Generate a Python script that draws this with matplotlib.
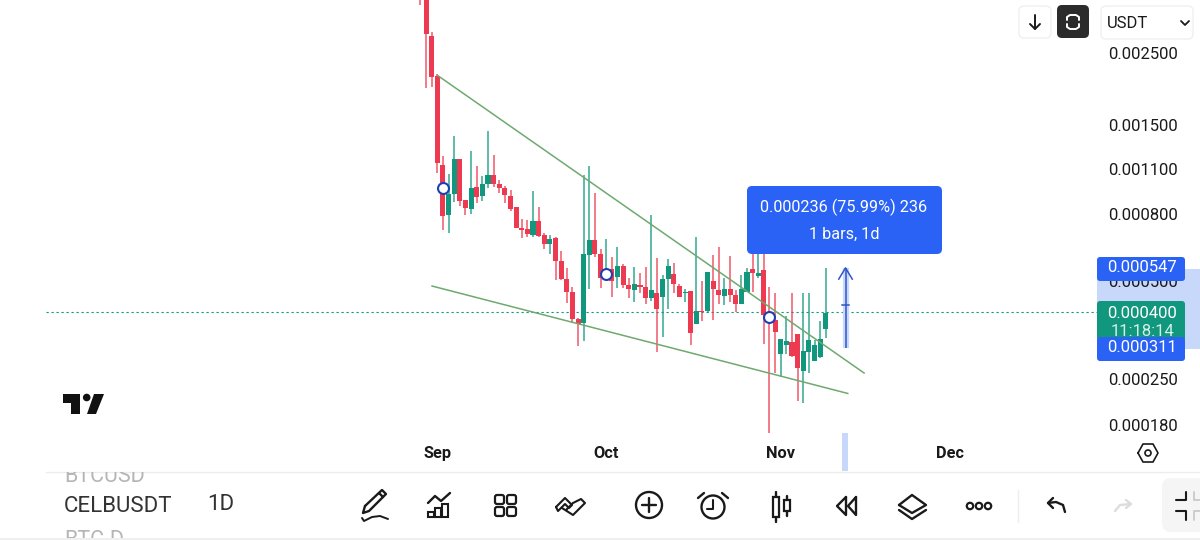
import matplotlib
matplotlib.use("Agg")
import matplotlib.pyplot as plt
from matplotlib.patches import FancyBboxPatch, Rectangle, Circle, Polygon

plt.rcParams["font.family"] = ["Roboto", "DejaVu Sans"]

# candles, prices in 1e-6 USDT
# first three start above the top of the chart
opens = [3900, 3900, 2820, 2130, 1132, 795, 922, 1181, 883, 829, 970, 909, 991, 1054, 991, 964, 909, 841, 725, 720,
         689, 762, 689, 647, 675, 575, 505, 462, 381, 370, 599, 666, 603, 505, 542, 513, 554, 485, 468, 485,
         478, 442, 457, 445, 505, 523, 481, 457, 465, 368, 403, 403, 498, 468, 448, 471, 451, 423, 462, 542,
         516, 539, 400, 378, 297, 317, 324, 343, 264, 302, 283, 291, 355]
highs = [3950, 3950, 2900, 2160, 1207, 1062, 1389, 1181, 883, 1249, 1124, 1047, 1440, 1215, 1019, 977, 950, 841, 773, 767,
         944, 841, 699, 689, 680, 616, 546, 478, 384, 1054, 1124, 928, 625, 670, 591, 634, 562, 509, 550, 527,
         550, 795, 587, 520, 583, 566, 488, 471, 465, 680, 498, 531, 599, 634, 509, 595, 468, 520, 546, 603,
         603, 603, 478, 457, 331, 389, 457, 343, 457, 457, 328, 376, 546]
lows = [3510, 1952, 1963, 1069, 715, 699, 871, 847, 795, 800, 865, 877, 964, 970, 928, 865, 818, 725, 675, 680,
        680, 680, 625, 603, 502, 502, 426, 370, 315, 326, 471, 591, 475, 502, 445, 475, 475, 442, 430, 457,
        423, 433, 302, 335, 409, 457, 445, 430, 317, 368, 376, 397, 378, 423, 420, 430, 400, 423, 462, 462,
        509, 319, 170, 260, 253, 297, 291, 213, 211, 260, 283, 289, 333]
closes = [3700, 2860, 2110, 1148, 789, 922, 1181, 877, 835, 964, 902, 991, 1054, 991, 964, 915, 829, 725, 715, 694,
          762, 684, 647, 670, 575, 505, 462, 381, 368, 603, 666, 603, 509, 542, 498, 554, 485, 471, 488, 478,
          442, 468, 409, 505, 554, 488, 445, 462, 345, 403, 400, 531, 471, 451, 471, 451, 423, 471, 531, 527,
          527, 392, 373, 348, 331, 326, 293, 269, 304, 328, 317, 331, 397]
first_day = -3

price_ticks = [0.0025, 0.0015, 0.0011, 0.0008, 0.0005, 0.00025, 0.00018]
price_labels = ["0.002500", "0.001500", "0.001100", "0.000800", "0.000500", "0.000250", "0.000180"]
month_days = [0, 30, 61, 91]
month_labels = ["Sep", "Oct", "Nov", "Dec"]
last_price = 0.0004
upper_line = ([0.1, 75.8], [0.00213, 0.00026])
lower_line = ([-0.94, 72.9], [0.000481, 0.000225])
markers = ([1, 30, 59], [0.000964, 0.000523, 0.000387])
measure_day = 72.5
measure_from = 0.000311
measure_to = 0.000547

RED = "#ee3a50"
GREEN = "#11977d"
BLUE = "#2a62f5"
PALE = "#c8d8fb"
INK = "#1a1a1a"
LINE_GREEN = "#6fa96f"

fig = plt.figure(figsize=(12, 5.4), dpi=100, facecolor="white")


def px_axes(z):
    a = fig.add_axes([0, 0, 1, 1], zorder=z, facecolor="none")
    a.set_xlim(0, 1200)
    a.set_ylim(540, 0)
    a.axis("off")
    return a


bg = px_axes(0)
bg.add_patch(Rectangle((1097, 269), 103, 80, color=PALE, lw=0))
bg.add_patch(Rectangle((842, 433), 6, 38, color=PALE, lw=0))
bg.plot([46, 1200], [471.5, 471.5], color="#ececec", lw=1)
bg.plot([0, 1200], [538.5, 538.5], color="#ececec", lw=1.2)

# price chart
ax = fig.add_axes([46 / 1200, (540 - 471) / 540, (1100 - 46) / 1200, 471 / 540], zorder=1, facecolor="none")
ax.set_yscale("log")
ax.set_xlim(-69.5, 117.7)
ax.set_ylim(0.000130, 0.003637)
for s in ax.spines.values():
    s.set_visible(False)
ax.yaxis.tick_right()
ax.set_yticks(price_ticks)
ax.set_yticklabels(price_labels, fontsize=12, color=INK)
ax.minorticks_off()
ax.set_xticks(month_days)
ax.set_xticklabels(month_labels, fontsize=11.8, fontweight="bold", color=INK)
ax.tick_params(axis="both", length=0)
ax.tick_params(axis="y", pad=5.5)
ax.tick_params(axis="x", pad=-18)
for lab in ax.get_xticklabels():
    lab.set_zorder(5)

ax.axhline(last_price, color=GREEN, lw=0.8, ls=(0, (2, 2.5)), zorder=1)
ax.plot(*upper_line, color=LINE_GREEN, lw=1.1, zorder=4)
ax.plot(*lower_line, color=LINE_GREEN, lw=1.1, zorder=4)

for n in range(len(opens)):
    day = first_day + n
    o, h, l, c = [v * 1e-6 for v in (opens[n], highs[n], lows[n], closes[n])]
    col = GREEN if c >= o else RED
    ax.plot([day, day], [l, h], color=col, lw=1.3, alpha=0.72, solid_capstyle="butt", zorder=2)
    ax.bar(day, abs(c - o), bottom=min(o, c), width=0.9, color=col, lw=0, zorder=3)

ax.scatter(markers[0], markers[1], s=62, facecolor="white", edgecolor="#1f3fb5", lw=1.5, zorder=6)

# measure arrow
ax.plot([measure_day, measure_day], [measure_from, measure_to], color=PALE, lw=4.5, solid_capstyle="butt", zorder=5)
ax.plot([measure_day, measure_day], [measure_from, measure_to], color="#2f55c8", lw=1.1, solid_capstyle="butt", zorder=6)
ax.plot([measure_day - 1.2, measure_day, measure_day + 1.2], [0.000505, measure_to, 0.000505], color="#2f55c8", lw=1.1, zorder=6)
ax.plot([measure_day - 0.6, measure_day + 0.6], [0.000421, 0.000421], color="#2f55c8", lw=1.1, zorder=6)

ui = px_axes(2)


def box(x, y, w, h, color, r=3, edge="none", lw=0):
    p = FancyBboxPatch((x + r, y + r), w - 2 * r, h - 2 * r, boxstyle=f"round,pad={r},rounding_size={r}",
                       facecolor=color, edgecolor=edge, lw=lw)
    ui.add_patch(p)


def stroke(xs, ys, color=INK, lw=1.7):
    ui.plot(xs, ys, color=color, lw=lw, solid_capstyle="round", solid_joinstyle="round")


def ring(x, y, r, color=INK, lw=1.7, fill="none"):
    ui.add_patch(Circle((x, y), r, facecolor=fill, edgecolor=color, lw=lw))


# tooltip
box(747, 186, 195, 68, BLUE, r=5)
ui.text(844, 207, "0.000236 (75.99%) 236", color="white", fontsize=11.7, ha="center", va="center")
ui.text(844, 234, "1 bars, 1d", color="white", fontsize=11.7, ha="center", va="center")

# price tags
box(1097, 257, 88, 24, BLUE)
ui.text(1142, 268, "0.000547", color="white", fontsize=12, ha="center", va="center")
box(1097, 301, 88, 40, GREEN)
ui.text(1142, 313, "0.000400", color="white", fontsize=12, ha="center", va="center")
ui.text(1142, 331, "11:18:14", color="#d5efe8", fontsize=12, ha="center", va="center")
box(1097, 337, 88, 24, BLUE)
ui.text(1142, 348, "0.000311", color="white", fontsize=12, ha="center", va="center")

# top buttons
box(1019, 6, 32, 32, "white", r=5, edge="#f0f0f0", lw=1)
stroke([1035, 1035], [15, 29], lw=1.4)
stroke([1030, 1035, 1040], [24, 29, 24], lw=1.4)
box(1057, 5, 32, 33, "#2b2b2b", r=5)
stroke([1067, 1067, 1070, 1076, 1079, 1079], [20, 17, 15, 15, 17, 20], color="white", lw=1.4)
stroke([1067, 1067, 1070, 1076, 1079, 1079], [24, 27, 29, 29, 27, 24], color="white", lw=1.4)
box(1101, 6, 92, 33, "white", r=5, edge="#f0f0f0", lw=1)
ui.text(1107, 23, "USDT", color=INK, fontsize=12, ha="left", va="center")
stroke([1181, 1185, 1189], [21, 25, 21], lw=1.3)

# logo
ui.add_patch(Polygon([(63, 394), (80, 394), (80, 414), (71, 414), (71, 403), (63, 403)], color="#111111", lw=0))
ui.add_patch(Circle((86.7, 397.5), 3.8, color="#111111", lw=0))
ui.add_patch(Polygon([(94, 394), (104, 394), (96, 414), (87, 414)], color="#111111", lw=0))

# symbol list, clipped by the panel lines
clip = Rectangle((0, 472), 1200, 66, transform=ui.transData)
t = ui.text(64, 477, "BTCUSD", color="#b5b5b5", fontsize=15.5, ha="left", va="center")
t.set_clip_path(clip)
t.set_clip_on(True)
t = ui.text(64, 541, "BTC-D", color="#b5b5b5", fontsize=15.5, ha="left", va="center")
t.set_clip_path(clip)
t.set_clip_on(True)
ui.text(64, 507, "CELBUSDT", color="#333333", fontsize=16, ha="left", va="center")
ui.text(207, 505, "1D", color="#333333", fontsize=16, ha="left", va="center")

# hexagon settings button
stroke([1138, 1143, 1153, 1158, 1153, 1143, 1138], [453, 444, 444, 453, 462, 462, 453], lw=1.2)
ring(1148, 453, 3, lw=1.2)

# pencil
stroke([365, 382, 386, 369, 363, 365], [506, 490, 494, 511, 513, 506])
stroke([379, 383], [493, 497])
stroke([362, 364, 372, 380, 388], [518, 521, 517, 516, 519], lw=1.4)
# bars and trend
for bx, top in zip([431, 438, 445], [512, 508, 504]):
    ui.add_patch(Rectangle((bx - 3, top), 6, 517 - top, facecolor="none", edgecolor=INK, lw=1.5))
stroke([428, 435, 441, 450], [503, 496, 501, 493])
# grid
for gx in [495, 507]:
    for gy in [495, 507]:
        ui.add_patch(FancyBboxPatch((gx + 2, gy + 2), 5, 5, boxstyle="round,pad=2,rounding_size=2",
                                    facecolor="none", edgecolor=INK, lw=1.6))
# chevrons
stroke([556, 565, 572, 569, 565, 558, 556], [507, 498, 505, 508, 504, 511, 507], lw=1.5)
stroke([566, 573, 581, 585, 573, 562], [510, 503, 499, 503, 515, 508], lw=1.5)
# plus
ring(649, 505, 13)
stroke([642, 656], [505, 505])
stroke([649, 649], [498, 512])
# alarm
ring(713, 507, 11.5)
stroke([713, 713, 707], [500, 509, 509], lw=1.5)
stroke([698, 704], [498, 493])
stroke([722, 728], [493, 498])
# candles icon
ui.add_patch(Rectangle((773, 497), 6, 20, facecolor="none", edgecolor=INK, lw=1.6))
stroke([776, 776], [492, 497])
stroke([776, 776], [517, 522])
ui.add_patch(Rectangle((784, 500), 6, 11, facecolor="none", edgecolor=INK, lw=1.6))
stroke([787, 787], [496, 500])
stroke([787, 787], [511, 516])
# rewind
stroke([846, 837, 846, 846], [497, 506, 515, 497])
stroke([856, 848, 856, 856], [497, 506, 515, 497])
# layers
stroke([899, 912, 926, 912, 899], [505, 495, 505, 513, 505])
stroke([899, 912, 926], [510, 519, 510])
# dots
for dx in [970, 979, 988]:
    ring(dx, 506, 3.2, lw=1.6)
ui.plot([1018, 1018], [490, 522], color="#eeeeee", lw=1)
# undo and redo
stroke([1048, 1056, 1063, 1065], [503, 502, 505, 512])
stroke([1053, 1048, 1053], [498, 503, 508])
stroke([1115, 1120, 1131], [511, 505, 504], color="#dddddd")
stroke([1126, 1131, 1126], [500, 504, 508], color="#dddddd")
# fullscreen exit
box(1162, 478, 50, 54, "#f5f5f5", r=9)
stroke([1176, 1186, 1186], [500, 500, 492], lw=1.5)
stroke([1176, 1186, 1186], [511, 511, 520], lw=1.5)
stroke([1194, 1194, 1200], [492, 500, 500], color="#cccccc", lw=1.4)
stroke([1194, 1194, 1200], [520, 511, 511], color="#cccccc", lw=1.4)

fig.savefig("out.png", dpi=100)
